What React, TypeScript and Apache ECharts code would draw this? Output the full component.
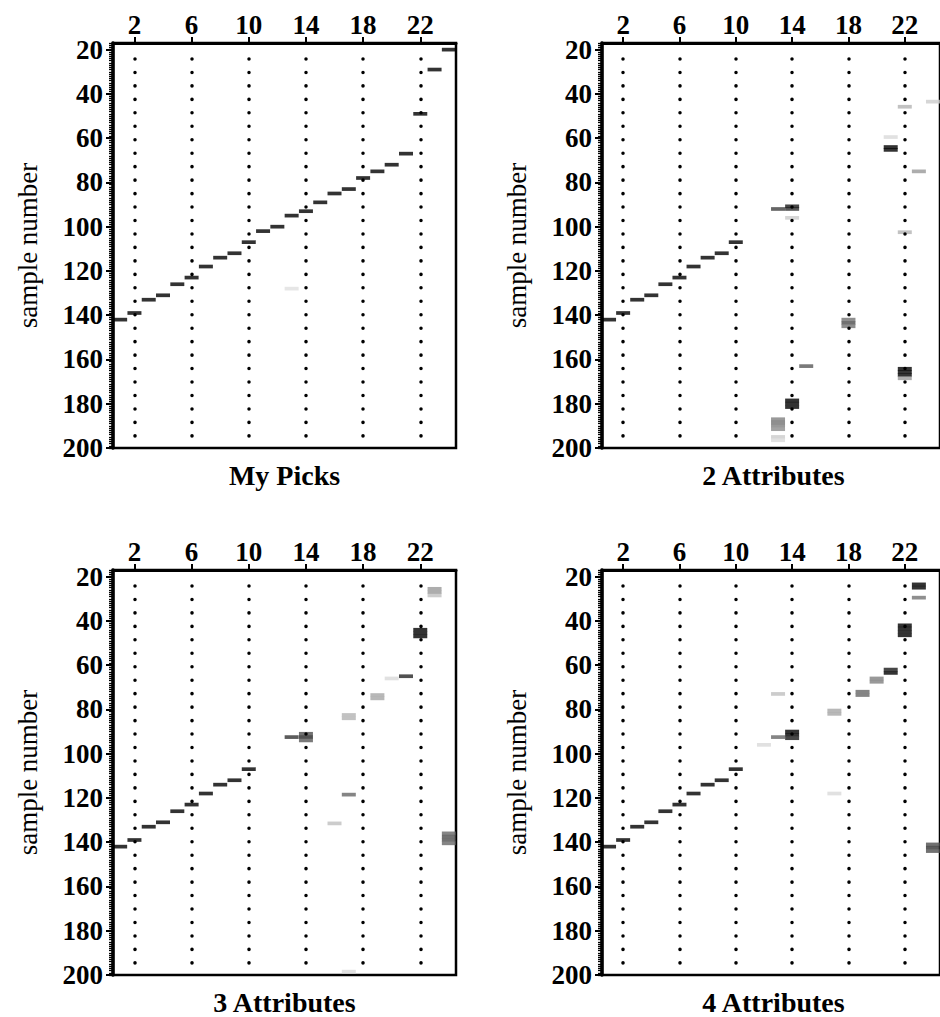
import React, { useEffect, useRef } from "react";
import * as echarts from "echarts";

// Axis ticks
const traceTicks = [2, 6, 10, 14, 18, 22];
const sampleTicks = [20, 40, 60, 80, 100, 120, 140, 160, 180, 200];
const panelTitles = ["My Picks", "2 Attributes", "3 Attributes", "4 Attributes"];

// Picks as [trace, sample number, strength]; strength 1 = full-confidence pick
const trainingPicks = [
  [1, 142, 1], [2, 139, 1], [3, 133, 1], [4, 131, 1], [5, 126, 1],
  [6, 123, 1], [7, 118, 1], [8, 114, 1], [9, 112, 1], [10, 107, 1],
];

const myPicks = [
  [11, 102, 1], [12, 100, 1], [13, 95, 1], [14, 93, 1], [15, 89, 1],
  [16, 85, 1], [17, 83, 1], [18, 78, 1], [19, 75, 1], [20, 72, 1],
  [21, 67, 1], [22, 49, 1], [23, 29, 1], [24, 20, 1], [13, 128, 0.12],
];

const twoAttributePicks = [
  [13, 92, 0.75], [14, 92, 0.8], [14, 90.8, 0.9], [14, 96, 0.2],
  [13, 187, 0.5], [13, 188.5, 0.55], [13, 190, 0.5], [13, 191.5, 0.45], [13, 195, 0.2], [13, 196.5, 0.15],
  [14, 178.5, 1], [14, 180, 1], [14, 181.5, 1],
  [15, 163, 0.65],
  [18, 142, 0.55], [18, 143.5, 0.7], [18, 145, 0.55],
  [21, 64, 1], [21, 65.3, 1], [21, 59.5, 0.15],
  [22, 45.8, 0.3], [22, 102.5, 0.3],
  [22, 164.2, 1], [22, 165.6, 1], [22, 167, 1], [22, 168.5, 0.4],
  [23, 75, 0.4],
  [24, 43.5, 0.2],
];

const threeAttributePicks = [
  [13, 92.5, 0.8], [14, 91, 0.7], [14, 92.5, 0.85], [14, 94, 0.65],
  [16, 131.5, 0.25],
  [17, 82.5, 0.3], [17, 84, 0.3],
  [17, 118.5, 0.6],
  [17, 198.5, 0.15],
  [19, 73.5, 0.35], [19, 75, 0.35],
  [20, 66, 0.15],
  [21, 65, 0.85],
  [22, 44, 1], [22, 45.5, 1], [22, 47, 1],
  [23, 25.5, 0.4], [23, 27, 0.4], [23, 28.5, 0.25],
  [24, 136, 0.6], [24, 137.5, 0.7], [24, 139, 0.7], [24, 140.5, 0.6],
];

const fourAttributePicks = [
  [12, 96, 0.15],
  [13, 73, 0.25],
  [13, 92.5, 0.6],
  [14, 90, 1], [14, 91.5, 1], [14, 93, 0.9],
  [17, 80.5, 0.35], [17, 82, 0.35],
  [17, 118, 0.15],
  [19, 72, 0.6], [19, 73.5, 0.6],
  [20, 66, 0.5], [20, 67.5, 0.5],
  [21, 62, 0.9], [21, 63.5, 1],
  [22, 42, 1], [22, 43.5, 1], [22, 45, 1], [22, 46.5, 1],
  [23, 23.5, 1], [23, 25, 1], [23, 29.5, 0.55],
  [24, 141, 0.7], [24, 142.5, 0.8], [24, 144, 0.7],
];

const panelPicks = [
  [...trainingPicks, ...myPicks],
  [...trainingPicks, ...twoAttributePicks],
  [...trainingPicks, ...threeAttributePicks],
  [...trainingPicks, ...fourAttributePicks],
];

const FONT = '"Liberation Serif", "DejaVu Serif", serif';
const GRID_W = 343;
const GRID_H = 405;
const gridPos = [
  { left: 113, top: 43 },
  { left: 602, top: 43 },
  { left: 113, top: 570 },
  { left: 602, top: 570 },
];

const grayFor = (s: number) => {
  const g = Math.round(255 * (1 - s));
  return `rgb(${g},${g},${g})`;
};

// every sample gets a small hatch tick on the left axis
const hatchTicks: number[] = [];
for (let v = 17; v <= 200; v++) hatchTicks.push(v);

function buildOption() {
  const grid: any[] = [];
  const xAxis: any[] = [];
  const yAxis: any[] = [];
  const series: any[] = [];
  const graphic: any[] = [];

  gridPos.forEach((p, i) => {
    grid.push({
      left: p.left,
      top: p.top,
      width: GRID_W,
      height: GRID_H,
      show: true,
      borderColor: "#000",
      borderWidth: 2.5,
      backgroundColor: "transparent",
    });

    xAxis.push({
      gridIndex: i,
      type: "value",
      position: "top",
      min: 0.5,
      max: 24.5,
      axisLine: { show: true, lineStyle: { color: "#000", width: 3 } },
      axisTick: {
        show: true,
        customValues: traceTicks,
        length: 6,
        lineStyle: { color: "#000", width: 2 },
      },
      axisLabel: {
        customValues: traceTicks,
        margin: 5,
        color: "#000",
        fontSize: 27,
        fontWeight: "bold",
        fontFamily: FONT,
      },
      splitLine: { show: false },
    });

    yAxis.push({
      gridIndex: i,
      type: "value",
      inverse: true,
      min: 17,
      max: 200,
      name: "sample number",
      nameLocation: "middle",
      nameGap: 72,
      nameTextStyle: { fontSize: 27, fontFamily: FONT, color: "#000" },
      axisLine: { show: true, lineStyle: { color: "#000", width: 3.5 } },
      axisTick: {
        show: true,
        customValues: sampleTicks,
        length: 7,
        lineStyle: { color: "#000", width: 2 },
      },
      axisLabel: {
        customValues: sampleTicks,
        margin: 10,
        color: "#000",
        fontSize: 27,
        fontWeight: "bold",
        fontFamily: FONT,
      },
      splitLine: { show: false },
    });

    yAxis.push({
      gridIndex: i,
      type: "value",
      inverse: true,
      min: 17,
      max: 200,
      position: "left",
      axisLine: { show: false },
      axisTick: {
        show: true,
        customValues: hatchTicks,
        length: 4,
        lineStyle: { color: "#000", width: 1.3 },
      },
      axisLabel: { show: false },
      splitLine: { show: false },
    });

    series.push({
      type: "scatter",
      xAxisIndex: i,
      yAxisIndex: i * 2,
      symbol: "rect",
      symbolSize: [14, 3.7],
      silent: true,
      z: 3,
      data: panelPicks[i].map(([t, s, w]) => ({
        value: [t, s],
        itemStyle: { color: grayFor(w) },
      })),
      markLine: {
        silent: true,
        symbol: ["none", "none"],
        label: { show: false },
        lineStyle: {
          color: "#000",
          width: 3.5,
          type: [0.1, 13.36],
          cap: "round",
        },
        data: traceTicks.map((t) => [{ coord: [t, 24.2] }, { coord: [t, 195.5] }]),
      },
    });

    graphic.push({
      type: "text",
      x: p.left + GRID_W / 2,
      y: p.top + GRID_H + 27,
      style: {
        text: panelTitles[i],
        font: `bold 28px ${FONT}`,
        fill: "#000",
        textAlign: "center",
        textVerticalAlign: "middle",
      },
    });
  });

  return {
    animation: false,
    backgroundColor: "#fff",
    grid,
    xAxis,
    yAxis,
    series,
    graphic,
  };
}

export default function App() {
  const ref = useRef<HTMLDivElement>(null);
  useEffect(() => {
    if (!ref.current) return;
    const chart = echarts.init(ref.current, null, { renderer: "svg" });
    chart.setOption(buildOption() as any);
    return () => chart.dispose();
  }, []);
  return (
    <div
      ref={ref}
      style={{ position: "fixed", left: 0, top: 0, width: 940, height: 1017 }}
    />
  );
}
